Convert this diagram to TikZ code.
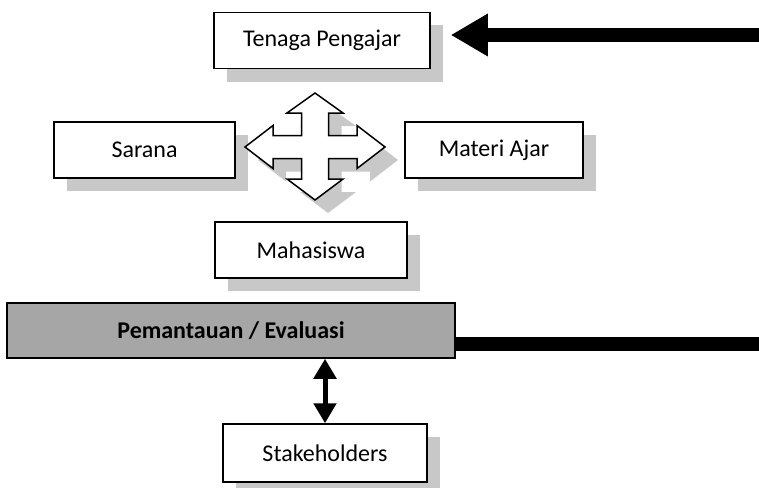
\documentclass[tikz,border=0pt]{standalone}
\usepackage{fontspec}
\setmainfont{Carlito}
\usetikzlibrary{arrows.meta,shadows}

\definecolor{shadowgray}{RGB}{200,200,200}
\definecolor{bargray}{RGB}{166,166,166}

% four-headed arrow in the middle
\newcommand{\plusarrow}{(0,-54) -- (28,-34) -- (13.5,-34) -- (13.5,-11.5) -- (42,-11.5) -- (42,-21.5) -- (70,0)
  -- (42,21.5) -- (42,11.5) -- (13.5,11.5) -- (13.5,32) -- (28,32) -- (0,53) -- (-28,32) -- (-13.5,32)
  -- (-13.5,11.5) -- (-42,11.5) -- (-42,21.5) -- (-70,0) -- (-42,-21.5) -- (-42,-11.5) -- (-13.5,-11.5)
  -- (-13.5,-34) -- (-28,-34) -- cycle}

\begin{document}
\begin{tikzpicture}[x=1pt, y=-1pt, thick]
    % Define styles
    \tikzstyle{unit} = [rectangle, draw, line width=1.5pt, fill=white, inner sep=0pt, minimum height=56pt, text centered,
        font=\fontsize{24}{28}\selectfont,
        drop shadow={shadow xshift=13pt, shadow yshift=-13pt, fill=shadowgray, opacity=1}]
    \tikzstyle{bar} = [rectangle, draw, line width=1.5pt, fill=bargray, inner sep=0pt, minimum height=55pt, text centered,
        font=\fontsize{24}{28}\selectfont\bfseries]
    \tikzstyle{feedback} = [draw, line width=14pt, line join=miter, -{Triangle[width=40pt, length=37pt]}]
    \tikzstyle{link} = [draw, line width=5pt, {Triangle[width=22pt, length=20pt]}-{Triangle[width=22pt, length=20pt]}]

    \useasboundingbox (0,0) rectangle (759,487);

    % Place nodes
    \node [unit, minimum width=216pt] (tenaga) at (322,40.5) {Tenaga Pengajar};
    \node [unit, minimum width=181pt] (sarana) at (144.5,150) {Sarana};
    \node [unit, minimum width=178pt] (materi) at (494,150) {Materi Ajar};
    \node [unit, minimum width=192pt] (mahasiswa) at (311,250) {Mahasiswa};
    \node [bar, minimum width=448pt] (evaluasi) at (231,330.5) {Pemantauan / Evaluasi};
    \node [unit, minimum width=204pt, minimum height=58pt] (stakeholders) at (325,453) {Stakeholders};

    % Four-headed arrow with its shadow
    \fill [shadowgray, shift={(328,160)}] \plusarrow;
    \draw [line width=1.5pt, fill=white, line join=miter, shift={(315,147)}] \plusarrow;

    % Feedback loop
    \coordinate (loopbottom) at (768,344);
    \coordinate (looptop) at (768,35);
    \path [feedback, shorten >=20pt] (evaluasi.east |- loopbottom) -- (loopbottom) -- (looptop) -- (tenaga.east |- looptop);

    % Evaluation and stakeholders
    \path [link] (stakeholders.north |- evaluasi.south) -- (stakeholders.north);
\end{tikzpicture}
\end{document}
